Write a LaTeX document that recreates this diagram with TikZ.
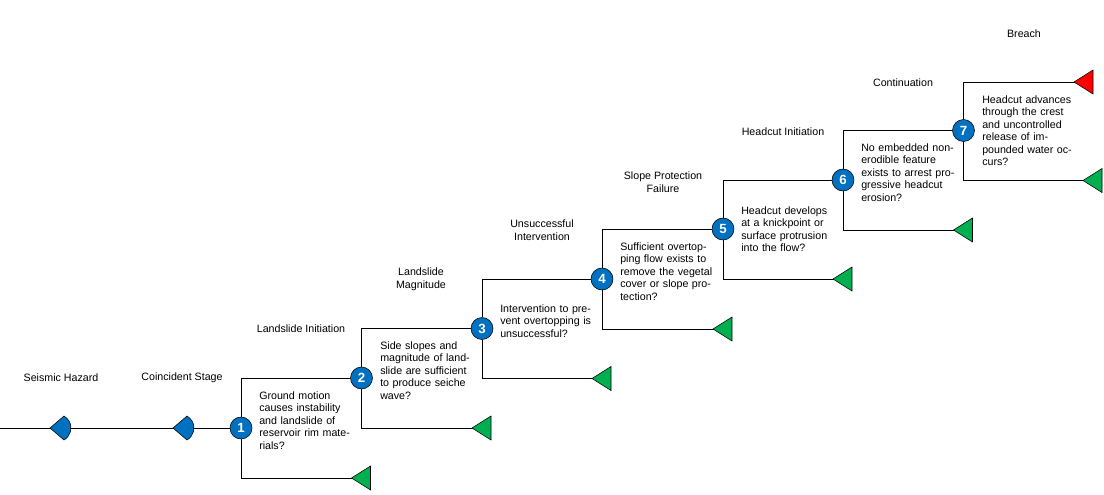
\documentclass[tikz,border=0pt]{standalone}
\usepackage{fontspec}
\setmainfont{Liberation Sans}
\definecolor{event}{RGB}{0,112,192}
\definecolor{safe}{RGB}{0,176,80}
\definecolor{breach}{RGB}{255,0,0}
\tikzset{eventnode/.style={circle, draw, fill=event, inner sep=0pt, minimum size=16.5pt, text=white, font=\bfseries\fontsize{10}{10}\selectfont}}
\tikzset{stage/.style={align=center, font=\fontsize{8}{9.4}\selectfont}}
\tikzset{question/.style={anchor=north west, align=left, text width=70pt, inner sep=0pt, font=\fontsize{8}{9.4}\selectfont}}
\tikzset{branch/.style={line width=0.6pt}}
\newcommand{\hazard}[1]{\fill[event, draw=black, line width=0.4pt] (#1) -- ++(14,12) arc[start angle=60, end angle=-60, radius=13.86] -- cycle;}
\begin{document}
\begin{tikzpicture}[x=0.75pt, y=-0.75pt]
  \useasboundingbox (0,0) rectangle (1104,494);
  %% initiating line
  \coordinate (start) at (0,428);
  \node[eventnode] (E1) at (241,428) {1};
  \draw[branch] (start) -- (E1);
  \coordinate (H1) at (50,428);
  \coordinate (H2) at (173,428);
  \hazard{H1}
  \hazard{H2}
  \node[stage] (S1) at (61,378) {Seismic Hazard};
  \node[stage] (S2) at (182,378) {Coincident Stage};
  %% event nodes
  \node[eventnode] (E2) at (361.5,378) {2};
  \node[eventnode] (E3) at (482,328.5) {3};
  \node[eventnode] (E4) at (602,279) {4};
  \node[eventnode] (E5) at (723,229) {5};
  \node[eventnode] (E6) at (843,180) {6};
  \node[eventnode] (E7) at (963.5,130.5) {7};
  \coordinate (E8) at (1093,82);
  %% branches
  \foreach \a/\b in {1/2,2/3,3/4,4/5,5/6,6/7,7/8}{
    \draw[branch] (E\a) |- (E\b);
    \draw[branch] (E\a) |- ([xshift=6.75pt,yshift=-37.5pt]E\a -| E\b) coordinate (N\a);
    \fill[safe, draw=black, line width=0.4pt] ([xshift=-14.25pt]N\a) -- ++(19,12) -- ++(0,-24) -- cycle;
  }
  \fill[breach, draw=black, line width=0.4pt] ([xshift=-14.25pt]E8) -- ++(19,12) -- ++(0,-24) -- cycle;
  %% stage labels
  \node[stage] (S3) at (301,329) {Landslide Initiation};
  \node[stage] (S4) at (421,279) {Landslide\\Magnitude};
  \node[stage] (S5) at (542,230) {Unsuccessful\\Intervention};
  \node[stage] (S6) at (663,182) {Slope Protection\\Failure};
  \node[stage] (S7) at (783,132) {Headcut Initiation};
  \node[stage] (S8) at (903,83) {Continuation};
  \node[stage] (S9) at (1024,34) {Breach};
  %% questions
  \node[question] (Q1) at (259,391) {Ground motion causes instability and landslide of reservoir rim materials?};
  \node[question] (Q2) at (380,341) {Side slopes and magnitude of landslide are sufficient to produce seiche wave?};
  \node[question] (Q3) at (500,304) {Intervention to prevent overtopping is unsuccessful?};
  \node[question] (Q4) at (620,242) {Sufficient overtopping flow exists to remove the vegetal cover or slope protection?};
  \node[question] (Q5) at (741,206) {Headcut develops at a knickpoint or surface protrusion into the flow?};
  \node[question] (Q6) at (861,143) {No embedded non-erodible feature exists to arrest progressive headcut erosion?};
  \node[question] (Q7) at (982,95) {Headcut advances through the crest and uncontrolled release of impounded water occurs?};
\end{tikzpicture}
\end{document}
